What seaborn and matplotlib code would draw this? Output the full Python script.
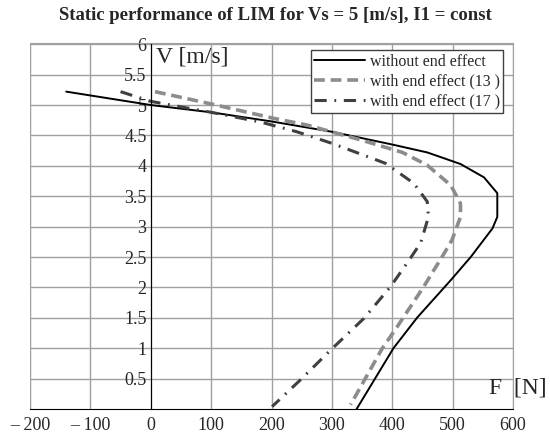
import numpy as np
import pandas as pd
import seaborn as sns
import matplotlib.pyplot as plt

# force F [N] vs speed V [m/s]
f_no_end = [-140, 0, 100, 200, 300, 400, 458, 513, 552, 574, 574, 566, 530, 497, 441, 402, 341]
v_no_end = [5.22, 5.0, 4.88, 4.73, 4.56, 4.35, 4.22, 4.03, 3.81, 3.55, 3.16, 2.97, 2.5, 2.12, 1.5, 1.0, 0.0]

f_end13 = [7, 99, 204, 259, 350, 417, 458, 497, 513, 513, 499, 486, 452, 408, 383, 331]
v_end13 = [5.22, 5.02, 4.78, 4.67, 4.42, 4.22, 4.01, 3.68, 3.38, 3.16, 2.78, 2.56, 2.01, 1.35, 0.99, 0.07]

f_end17 = [-50, 0, 100, 182, 242, 300, 389, 436, 458, 460, 447, 428, 397, 353, 298, 248, 201]
v_end17 = [5.22, 5.06, 4.88, 4.72, 4.56, 4.37, 4.04, 3.71, 3.41, 3.16, 2.73, 2.45, 2.01, 1.49, 0.97, 0.48, 0.04]

x_ticks = [-200, -100, 0, 100, 200, 300, 400, 500, 600]
x_labels = ['\u2013 200', '\u2013 100', '0', '100', '200', '300', '400', '500', '600']
y_ticks = [0.5, 1, 1.5, 2, 2.5, 3, 3.5, 4, 4.5, 5, 5.5, 6]
y_labels = ['0.5', '1', '1.5', '2', '2.5', '3', '3.5', '4', '4.5', '5', '5.5', '6']

sns.set_style('white')
plt.rcParams['font.family'] = ['Liberation Serif', 'DejaVu Serif']

fig = plt.figure(figsize=(5.5, 4.37), dpi=100)
ax = fig.add_axes([30 / 550, 1 - 409 / 437, 483 / 550, 366 / 437])

sns.lineplot(x=f_no_end, y=v_no_end, sort=False, estimator=None, ax=ax,
             color='black', lw=1.4, label='without end effect')
sns.lineplot(x=f_end13, y=v_end13, sort=False, estimator=None, ax=ax,
             color='#8c8c8c', lw=2.6, label='with end effect (13 )')
sns.lineplot(x=f_end17, y=v_end17, sort=False, estimator=None, ax=ax,
             color='#404040', lw=2.2, label='with end effect (17 )')
ax.lines[1].set_dashes([3, 1.6])
ax.lines[2].set_dashes([4, 2.5, 0.6, 2.5])

ax.set_xlim(-200, 600)
ax.set_ylim(0, 6.02)
ax.grid(True, color='#a0a0a0', lw=1)
ax.axvline(-200, color='#a0a0a0', lw=1.5)

ax.spines['left'].set_position(('data', 0))
ax.spines['left'].set_color('black')
ax.spines['bottom'].set_color('black')
ax.spines['top'].set_color('#a0a0a0')
ax.spines['right'].set_color('#a0a0a0')
ax.tick_params(axis='x', direction='out', length=4, color='black', pad=2, labelsize=13)
ax.tick_params(axis='y', direction='inout', length=6, color='black', pad=0, labelsize=13)
ax.set_xticks(x_ticks)
ax.set_xticklabels(x_labels)
ax.set_yticks(y_ticks)
ax.set_yticklabels(y_labels)

ax.text(8, 5.97, 'V [m/s]', fontsize=17, va='top', ha='left')
ax.text(1.07, 0.03, 'F  [N]', fontsize=17, va='bottom', ha='right',
        transform=ax.transAxes, clip_on=False)

fig.suptitle('Static performance of LIM for Vs = 5 [m/s], I1 = const',
             fontsize=13.5, fontweight='bold', y=0.985)

leg = ax.legend(loc='upper right', bbox_to_anchor=(0.98, 0.98), fontsize=11.5,
                fancybox=False, framealpha=1, edgecolor='#404040',
                handlelength=3.2, handletextpad=0.3, borderpad=0.2, labelspacing=0.25,
                borderaxespad=0)
leg.get_frame().set_linewidth(1)

fig.savefig('out.png', dpi=100)
